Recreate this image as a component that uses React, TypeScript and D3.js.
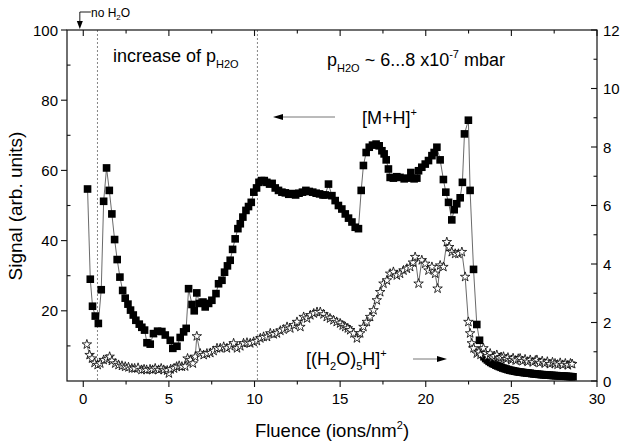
import React from 'react';
import * as d3 from 'd3';

// [M+H]+ signal (left axis, arb. units)
const FLUENCE_MH = [
  0.25, 0.41, 0.54, 0.70, 0.88, 1.05, 1.19, 1.36, 1.52, 1.67, 1.83, 1.98, 2.14, 2.30, 2.45, 2.61, 2.76, 2.92, 3.07, 3.27,
  3.42, 3.58, 3.72, 3.91, 4.10, 4.34, 4.59, 4.79, 5.08, 5.23, 5.47, 5.66, 5.86, 6.01, 6.15, 6.35, 6.48, 6.63, 6.79, 6.99,
  7.12, 7.32, 7.51, 7.75, 7.90, 8.10, 8.25, 8.42, 8.58, 8.72, 8.87, 9.03, 9.17, 9.32, 9.50, 9.65, 9.81, 9.96, 10.12, 10.26,
  10.41, 10.57, 10.72, 10.88, 11.03, 11.21, 11.40, 11.60, 11.80, 12.00, 12.20, 12.40, 12.60, 12.80, 13.00, 13.20, 13.40, 13.60, 13.80, 14.00,
  14.13, 14.32, 14.52, 14.71, 14.90, 15.10, 15.30, 15.49, 15.69, 15.88, 16.07, 16.23, 16.36, 16.52, 16.70, 16.89, 17.10, 17.28, 17.44, 17.57,
  17.69, 17.82, 17.92, 18.11, 18.31, 18.50, 18.74, 18.93, 19.13, 19.32, 19.48, 19.58, 19.77, 19.97, 20.16, 20.36, 20.49, 20.65, 20.84, 21.03,
  21.17, 21.33, 21.52, 21.66, 21.81, 22.01, 22.14, 22.26, 22.49, 22.59, 22.79, 22.98, 23.14,
  23.3, 23.4, 23.5, 23.6, 23.7, 23.8, 23.9, 24.0, 24.1, 24.2, 24.3, 24.4, 24.5, 24.6, 24.7, 24.8, 24.9, 25.0, 25.1, 25.2,
  25.3, 25.4, 25.5, 25.6, 25.7, 25.8, 25.9, 26.0, 26.1, 26.2, 26.3, 26.4, 26.5, 26.6, 26.7, 26.8, 26.9, 27.0, 27.1, 27.2,
  27.3, 27.4, 27.5, 27.6, 27.7, 27.8, 27.9, 28.0, 28.1, 28.2, 28.3, 28.4, 28.5, 28.6,
];
const SIGNAL_MH = [
  54.7, 29.0, 21.3, 18.5, 16.4, 26.0, 51.2, 60.7, 54.3, 47.6, 40.3, 34.6, 29.6, 25.8, 23.6, 21.9, 20.2, 18.8, 17.3, 16.2,
  15.3, 14.5, 10.9, 10.5, 13.5, 14.2, 14.1, 13.1, 11.6, 9.3, 9.9, 12.4, 14.0, 15.0, 26.3, 21.8, 20.0, 25.1, 22.1, 22.5,
  21.1, 22.1, 23.0, 24.9, 27.7, 28.7, 31.0, 32.8, 34.4, 37.5, 40.5, 43.4, 44.8, 46.7, 48.6, 49.7, 50.9, 53.8, 55.0, 56.6,
  57.1, 57.1, 56.6, 56.1, 56.3, 55.0, 54.3, 53.8, 53.6, 53.2, 53.4, 53.0, 53.5, 53.8, 54.3, 54.0, 53.8, 53.5, 53.3, 53.0,
  53.0, 56.1, 52.8, 51.4, 50.0, 49.0, 47.6, 46.4, 45.3, 43.8, 43.4, 54.3, 61.4, 65.1, 66.6, 67.2, 67.5, 67.0, 65.6, 64.7,
  63.0, 60.4, 58.0, 57.8, 58.2, 58.0, 57.6, 57.8, 59.4, 57.6, 57.8, 59.9, 60.9, 61.8, 62.8, 64.2, 65.1, 66.6, 63.0, 57.4,
  53.8, 50.9, 45.9, 48.8, 50.5, 52.2, 56.6, 70.4, 74.3, 54.3, 31.8, 16.1, 11.6,
  7.6, 6.9, 6.4, 6.0, 5.6, 5.3, 5.0, 4.8, 4.5, 4.3, 4.1, 3.9, 3.7, 3.55, 3.4, 3.25, 3.1, 3.0, 2.9, 2.8,
  2.7, 2.6, 2.55, 2.5, 2.4, 2.35, 2.3, 2.25, 2.2, 2.1, 2.05, 2.0, 1.95, 1.9, 1.85, 1.8, 1.78, 1.73, 1.7, 1.65,
  1.62, 1.58, 1.55, 1.52, 1.5, 1.46, 1.43, 1.4, 1.37, 1.33, 1.3, 1.27, 1.23, 1.2,
];

// [(H2O)5H]+ signal (right axis)
const FLUENCE_W = [
  0.21, 0.37, 0.51, 0.66, 0.84, 0.99, 1.19, 1.38, 1.54, 1.67, 1.87, 2.06, 2.26, 2.45, 2.64, 2.84, 3.00, 3.20, 3.40, 3.55,
  3.70, 3.90, 4.05, 4.20, 4.40, 4.55, 4.70, 4.90, 5.00, 5.10, 5.30, 5.45, 5.60, 5.76, 5.95, 6.09, 6.25, 6.40, 6.54, 6.63,
  6.83, 7.03, 7.22, 7.42, 7.61, 7.81, 8.00, 8.20, 8.39, 8.59, 8.78, 8.98, 9.17, 9.36, 9.56, 9.75, 9.95, 10.14, 10.34, 10.53,
  10.73, 10.92, 11.12, 11.31, 11.51, 11.70, 11.90, 12.09, 12.29, 12.48, 12.68, 12.87, 13.07, 13.26, 13.46, 13.65, 13.84, 14.03, 14.22, 14.41,
  14.61, 14.80, 15.00, 15.15, 15.30, 15.45, 15.59, 15.78, 15.98, 16.17, 16.36, 16.56, 16.75, 16.95, 17.14, 17.34, 17.53, 17.73, 17.92, 18.11,
  18.31, 18.50, 18.70, 18.90, 19.09, 19.25, 19.38, 19.58, 19.77, 19.97, 20.16, 20.36, 20.55, 20.69, 20.84, 21.03, 21.23, 21.37, 21.52, 21.72,
  21.91, 22.11, 22.30, 22.49, 22.59, 22.69, 22.79, 22.98, 23.10, 23.20, 23.37, 23.50, 23.60, 23.76, 23.90, 24.00, 24.15, 24.30, 24.40, 24.54,
  24.70, 24.80, 25.00, 25.10, 25.25, 25.40, 25.51, 25.65, 25.80, 25.95, 26.10, 26.25, 26.40, 26.49, 26.65, 26.80, 26.95, 27.10, 27.25, 27.40,
  27.55, 27.70, 27.85, 28.00, 28.15, 28.30, 28.45, 28.55,
];
const SIGNAL_W = [
  1.25, 0.89, 0.77, 0.62, 0.55, 0.60, 0.72, 0.74, 0.83, 0.69, 0.60, 0.55, 0.52, 0.49, 0.47, 0.43, 0.43, 0.45, 0.38, 0.40,
  0.38, 0.40, 0.38, 0.43, 0.38, 0.43, 0.38, 0.36, 0.26, 0.40, 0.43, 0.49, 0.52, 0.49, 0.50, 0.77, 0.72, 0.60, 0.83, 1.53,
  0.94, 0.89, 0.94, 0.96, 1.03, 1.12, 1.12, 1.17, 1.12, 1.19, 1.29, 1.12, 1.19, 1.29, 1.31, 1.29, 1.34, 1.37, 1.46, 1.51,
  1.51, 1.63, 1.60, 1.63, 1.72, 1.76, 1.85, 1.80, 1.91, 2.02, 1.85, 2.19, 2.14, 2.25, 2.31, 2.36, 2.36, 2.28, 2.19, 2.14,
  2.08, 2.02, 1.97, 1.90, 1.85, 1.80, 1.74, 1.63, 1.46, 1.63, 1.85, 2.02, 2.19, 2.42, 2.76, 3.04, 3.33, 3.44, 3.67, 3.73,
  3.61, 3.67, 3.78, 3.84, 3.90, 4.05, 4.24, 3.33, 4.13, 4.01, 3.78, 3.90, 3.67, 3.16, 3.95, 3.90, 4.75, 4.58, 4.41, 4.35,
  4.35, 4.41, 3.56, 2.02, 1.63, 1.29, 1.12, 0.94, 1.00, 0.90, 1.12, 0.95, 0.85, 0.94, 0.80, 0.85, 0.89, 0.78, 0.82, 0.83,
  0.75, 0.80, 0.72, 0.78, 0.70, 0.76, 0.77, 0.68, 0.74, 0.66, 0.72, 0.64, 0.70, 0.72, 0.62, 0.68, 0.60, 0.66, 0.58, 0.64,
  0.60, 0.56, 0.62, 0.55, 0.60, 0.54, 0.60, 0.58,
];

const X_TICKS = [0, 5, 10, 15, 20, 25, 30];
const X_MINOR = [2.5, 7.5, 12.5, 17.5, 22.5, 27.5];
const YL_TICKS = [20, 40, 60, 80, 100];
const YL_MINOR = [10, 30, 50, 70, 90];
const YR_TICKS = [0, 2, 4, 6, 8, 10, 12];
const YR_MINOR = [1, 3, 5, 7, 9, 11];
const DASHED_AT = [0.83, 10.17];

const FONT = "'Liberation Sans', Arial, Helvetica, sans-serif";
const WIDTH = 629;
const HEIGHT = 448;

export default function App() {
  const L = 67, R = 597, T = 30, B = 381;
  const x = d3.scaleLinear().domain([-0.95, 30]).range([L, R]);
  const yL = d3.scaleLinear().domain([0, 100]).range([B, T]);
  const yR = d3.scaleLinear().domain([0, 12]).range([B, T]);

  const mh = FLUENCE_MH.map((f, i) => [f, SIGNAL_MH[i]] as [number, number]);
  const w = FLUENCE_W.map((f, i) => [f, SIGNAL_W[i]] as [number, number]);

  const lineMH = d3.line<[number, number]>().x(d => x(d[0])).y(d => yL(d[1]))(mh) || '';
  const lineW = d3.line<[number, number]>().x(d => x(d[0])).y(d => yR(d[1]))(w) || '';
  const sq = d3.symbol().type(d3.symbolSquare).size(58)() || '';
  const star = d3.symbol().type(d3.symbolStar).size(28)() || '';

  const ink = '#111';
  const ax = x(-0.2);
  return (
    <svg width={WIDTH} height={HEIGHT} style={{ position: 'absolute', left: 0, top: 0, background: '#fff' }}
      fontFamily={FONT}>
      {DASHED_AT.map((v, i) => (
        <line key={'d' + i} x1={x(v)} x2={x(v)} y1={T} y2={B} stroke="#777" strokeWidth={0.9} strokeDasharray="2,2" />
      ))}

      <path d={lineMH} fill="none" stroke="#444" strokeWidth={0.8} />
      <path d={lineW} fill="none" stroke="#444" strokeWidth={0.8} />

      {mh.map((d, i) => (
        <path key={'s' + i} d={sq} transform={`translate(${x(d[0])},${yL(d[1])})`} fill="#000" />
      ))}
      {w.map((d, i) => (
        <path key={'w' + i} d={star} transform={`translate(${x(d[0])},${yR(d[1])})`} fill="#fff" stroke="#000" strokeWidth={0.8} />
      ))}

      <rect x={L} y={T} width={R - L} height={B - T} fill="none" stroke={ink} strokeWidth={1.2} />

      {X_TICKS.map(v => (
        <g key={'xb' + v}>
          <line x1={x(v)} x2={x(v)} y1={B} y2={B + 6} stroke={ink} strokeWidth={1.1} />
          <text x={x(v)} y={B + 23} fontSize={15} textAnchor="middle" fill="#000">{v}</text>
        </g>
      ))}
      {X_MINOR.map(v => (
        <line key={'xbm' + v} x1={x(v)} x2={x(v)} y1={B} y2={B + 3.5} stroke={ink} strokeWidth={1.1} />
      ))}
      {X_TICKS.map(v => (
        <line key={'xt' + v} x1={x(v)} x2={x(v)} y1={T} y2={T + 6} stroke={ink} strokeWidth={1.1} />
      ))}
      {X_MINOR.map(v => (
        <line key={'xtm' + v} x1={x(v)} x2={x(v)} y1={T} y2={T + 3.5} stroke={ink} strokeWidth={1.1} />
      ))}

      {YL_TICKS.map(v => (
        <g key={'yl' + v}>
          <line x1={L - 6} x2={L} y1={yL(v)} y2={yL(v)} stroke={ink} strokeWidth={1.1} />
          <text x={L - 9} y={yL(v) + 5.5} fontSize={15} textAnchor="end" fill="#000">{v}</text>
        </g>
      ))}
      {YL_MINOR.map(v => (
        <line key={'ylm' + v} x1={L} x2={L + 3.5} y1={yL(v)} y2={yL(v)} stroke={ink} strokeWidth={1.1} />
      ))}

      {YR_TICKS.map(v => (
        <g key={'yr' + v}>
          <line x1={R - 6} x2={R} y1={yR(v)} y2={yR(v)} stroke={ink} strokeWidth={1.1} />
          <text x={R + 6} y={yR(v) + 5.5} fontSize={15} textAnchor="start" fill="#000">{v}</text>
        </g>
      ))}
      {YR_MINOR.map(v => (
        <line key={'yrm' + v} x1={R - 3.5} x2={R} y1={yR(v)} y2={yR(v)} stroke={ink} strokeWidth={1.1} />
      ))}

      <text x={332} y={437} fontSize={18.5} textAnchor="middle" fill="#000">
        Fluence (ions/nm<tspan fontSize={11} dy={-8}>2</tspan><tspan dy={8}>)</tspan>
      </text>
      <text transform="translate(22,206) rotate(-90)" fontSize={19} textAnchor="middle" fill="#000">
        Signal (arb. units)
      </text>

      <g fill="#000">
        <path d={`M${ax},12 H${ax + 11} M${ax},12 V22`} stroke="#000" strokeWidth={0.9} fill="none" />
        <path d={`M${ax - 3},21 L${ax + 3},21 L${ax},29 Z`} fill="#000" />
        <text x={91} y={17} fontSize={12}>no H<tspan fontSize={8} dy={3}>2</tspan><tspan dy={-3}>O</tspan></text>

        <text x={113} y={62} fontSize={18}>increase of p<tspan fontSize={11} dy={6}>H2O</tspan></text>
        <text x={327} y={66} fontSize={18}>p<tspan fontSize={11} dy={6}>H2O</tspan><tspan dy={-6}> ~ 6...8 x10</tspan><tspan fontSize={11} dy={-8}>-7</tspan><tspan dy={8}> mbar</tspan></text>

        <text x={362} y={124} fontSize={18}>[M+H]<tspan fontSize={11} dy={-8}>+</tspan></text>
        <line x1={335} x2={282} y1={117} y2={117} stroke="#777" strokeWidth={1} />
        <path d="M273,117 L283,114 L283,120 Z" fill="#000" />

        <text x={306} y={365} fontSize={18}>[(H<tspan fontSize={11} dy={5}>2</tspan><tspan dy={-5}>O)</tspan><tspan fontSize={11} dy={5}>5</tspan><tspan dy={-5}>H]</tspan><tspan fontSize={11} dy={-8}>+</tspan></text>
        <line x1={413} x2={439} y1={359} y2={359} stroke="#777" strokeWidth={1} />
        <path d="M447,359 L437,356 L437,362 Z" fill="#000" />
      </g>
    </svg>
  );
}
